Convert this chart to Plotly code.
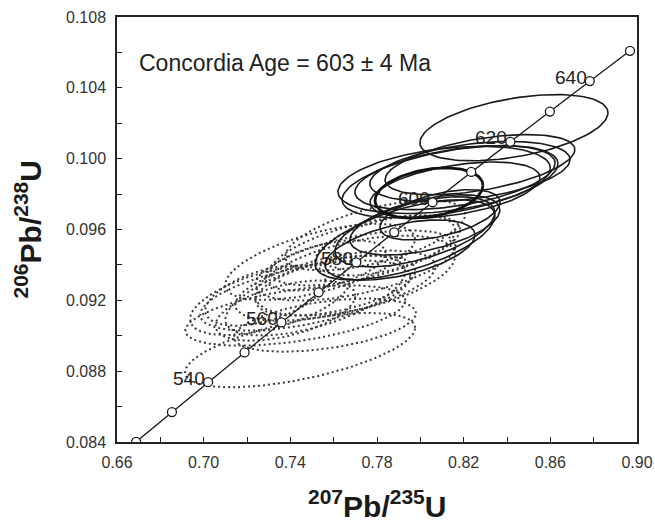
import numpy as np
import plotly.graph_objects as go

# Concordia reference points (age in Ma, 207Pb/235U, 206Pb/238U)
conc_age = [520, 530, 540, 550, 560, 570, 580, 590, 600, 610, 620, 630, 640, 650]
conc_x = [0.66883, 0.68535, 0.70203, 0.71887, 0.73588, 0.75306, 0.77041, 0.78794,
          0.80563, 0.82350, 0.84155, 0.85978, 0.87818, 0.89677]
conc_y = [0.08401, 0.08569, 0.08738, 0.08906, 0.09075, 0.09245, 0.09414, 0.09584,
          0.09754, 0.09925, 0.10095, 0.10266, 0.10438, 0.10609]
label_ages = [540, 560, 580, 600, 620, 640]

# Solid error ellipses: centre, half-widths (2 sigma), error correlation
solid_x = [0.8432, 0.8137, 0.8160, 0.8229, 0.8275, 0.8160, 0.7929, 0.7975, 0.8021, 0.7906, 0.8091, 0.8110]
solid_y = [0.10175, 0.09870, 0.09893, 0.09927, 0.09966, 0.09823, 0.09542, 0.09587, 0.09626, 0.09484, 0.09683, 0.09880]
solid_ex = [0.0434, 0.0498, 0.0462, 0.0462, 0.0438, 0.0392, 0.0415, 0.0369, 0.0346, 0.0346, 0.0277, 0.0490]
solid_ey = [0.00187, 0.00204, 0.00181, 0.00170, 0.00170, 0.00158, 0.00226, 0.00198, 0.00170, 0.00170, 0.00142, 0.00190]
solid_rho = [0.45, 0.50, 0.45, 0.40, 0.50, 0.45, 0.60, 0.55, 0.50, 0.50, 0.50, 0.35]

# Dotted (excluded) error ellipses
dot_x = [0.7469, 0.7423, 0.7445, 0.7608, 0.7700, 0.7746, 0.7792, 0.7608, 0.7515, 0.7700, 0.7377,
         0.7838, 0.7562, 0.7285, 0.7560, 0.7537, 0.7306]
dot_y = [0.09227, 0.09114, 0.08919, 0.09283, 0.09397, 0.09482, 0.09567, 0.09284, 0.09227, 0.09340, 0.09142,
         0.09510, 0.09397, 0.09227, 0.09060, 0.09417, 0.09202]
dot_ex = [0.0485, 0.0508, 0.0531, 0.0462, 0.0462, 0.0438, 0.0415, 0.0369, 0.0415, 0.0462, 0.0323,
          0.0323, 0.0277, 0.0277, 0.0420, 0.0438, 0.0369]
dot_ey = [0.00198, 0.00170, 0.00210, 0.00198, 0.00198, 0.00198, 0.00198, 0.00170, 0.00226, 0.00226, 0.00170,
          0.00170, 0.00142, 0.00170, 0.00150, 0.00215, 0.00198]
dot_rho = [0.55, 0.50, 0.60, 0.55, 0.55, 0.60, 0.60, 0.50, 0.60, 0.50, 0.50,
           0.50, 0.50, 0.50, 0.45, 0.60, 0.55]

# Concordia age ellipse (bold)
age_x = [0.8040]
age_y = [0.09806]
age_ex = [0.0249]
age_ey = [0.00142]
age_rho = [0.30]

t = np.linspace(0, 2 * np.pi, 121)


def ellipse(cx, cy, ex, ey, rho):
    xs = cx + ex * np.cos(t)
    ys = cy + ey * (rho * np.cos(t) + np.sqrt(1 - rho ** 2) * np.sin(t))
    return xs, ys


FONT = "Liberation Sans, Arial, sans-serif"
fig = go.Figure()

for cx, cy, ex, ey, r in zip(dot_x, dot_y, dot_ex, dot_ey, dot_rho):
    xs, ys = ellipse(cx, cy, ex, ey, r)
    fig.add_trace(go.Scatter(x=xs, y=ys, mode="lines",
                             line=dict(color="#3a3a3a", width=2, dash="2px,3px"),
                             hoverinfo="skip", showlegend=False))

for cx, cy, ex, ey, r in zip(solid_x, solid_y, solid_ex, solid_ey, solid_rho):
    xs, ys = ellipse(cx, cy, ex, ey, r)
    fig.add_trace(go.Scatter(x=xs, y=ys, mode="lines",
                             line=dict(color="#1a1a1a", width=1.6),
                             hoverinfo="skip", showlegend=False))

for cx, cy, ex, ey, r in zip(age_x, age_y, age_ex, age_ey, age_rho):
    xs, ys = ellipse(cx, cy, ex, ey, r)
    fig.add_trace(go.Scatter(x=xs, y=ys, mode="lines",
                             line=dict(color="#111111", width=2.8),
                             hoverinfo="skip", showlegend=False))

fig.add_trace(go.Scatter(x=conc_x, y=conc_y, mode="lines+markers",
                         line=dict(color="#1a1a1a", width=1.3),
                         marker=dict(symbol="circle", size=9, color="white",
                                     line=dict(color="#1a1a1a", width=1.3)),
                         hoverinfo="skip", showlegend=False))

for a in label_ages:
    i = conc_age.index(a)
    fig.add_annotation(x=conc_x[i], y=conc_y[i], text=str(a), showarrow=False,
                       xanchor="right", yanchor="middle", xshift=-1, yshift=4,
                       font=dict(family=FONT, size=19, color="#222222"))

fig.add_annotation(x=0.669, y=0.1054, text="Concordia Age = 603 ± 4 Ma", showarrow=False,
                   xanchor="left", yanchor="middle",
                   font=dict(family=FONT, size=23, color="#222222"))

# axis titles
fig.add_annotation(xref="paper", yref="paper", x=0.5, y=0, text="<b><sup>207</sup>Pb/<sup>235</sup>U</b>",
                   showarrow=False, xanchor="center", yanchor="middle", yshift=-62,
                   font=dict(family=FONT, size=30, color="#1a1a1a"))
fig.add_annotation(xref="paper", yref="paper", x=0, y=0.5, text="<b><sup>206</sup>Pb/<sup>238</sup>U</b>",
                   showarrow=False, xanchor="center", yanchor="middle", xshift=-89, textangle=-90,
                   font=dict(family=FONT, size=30, color="#1a1a1a"))

axis_common = dict(showgrid=False, zeroline=False, showline=True, mirror=True,
                   linecolor="#222222", linewidth=1.5, ticks="inside", ticklen=5,
                   tickcolor="#222222", tickwidth=1.3, automargin=False,
                   tickfont=dict(family=FONT, size=16, color="#333333"))

fig.update_xaxes(range=[0.66, 0.90], tick0=0.66, dtick=0.04, tickformat=".2f",
                 ticklabelstandoff=5,
                 minor=dict(dtick=0.02, tick0=0.66, ticks="inside", ticklen=5, tickcolor="#222222"),
                 **axis_common)
fig.update_yaxes(range=[0.084, 0.108], tick0=0.084, dtick=0.004, tickformat=".3f",
                 ticklabelstandoff=6,
                 minor=dict(dtick=0.002, tick0=0.084, ticks="inside", ticklen=5, tickcolor="#222222"),
                 **axis_common)

fig.update_layout(width=655, height=525, margin=dict(l=117, r=18, t=17, b=83),
                  plot_bgcolor="white", paper_bgcolor="white")

# remove the browser's default 8px page margin so the figure fills the window exactly
fig.write_html("out.html", config={"displayModeBar": False},
               post_script="document.body.style.margin='0';document.body.style.overflow='hidden';")
